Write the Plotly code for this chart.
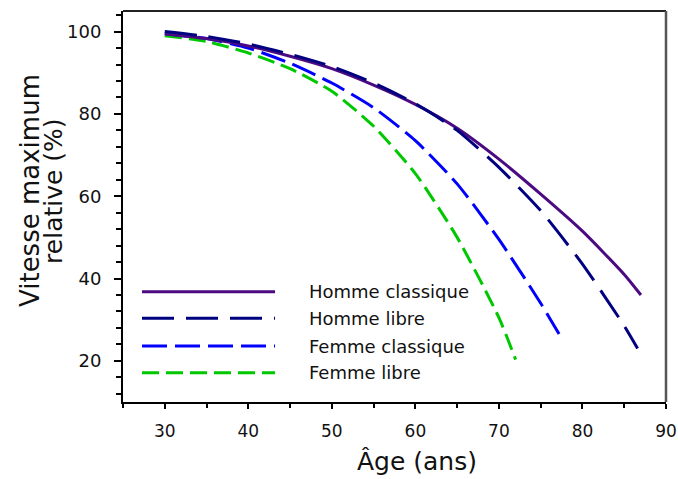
import plotly.graph_objects as go

# --- data ---
ages_hc = [30, 35, 40, 45, 50, 55, 60, 65, 70, 75, 80, 85, 87]
vals_hc = [99.5, 98.3, 96.5, 94.0, 91.0, 87.0, 82.3, 76.5, 69.0, 60.5, 51.5, 41.0, 36.0]

ages_hl = [30, 35, 40, 45, 50, 55, 60, 65, 70, 75, 80, 85, 86.6]
vals_hl = [100.0, 98.8, 97.0, 94.5, 91.5, 87.5, 82.5, 76.0, 67.0, 56.5, 43.5, 28.5, 23.0]

ages_fc = [30, 35, 40, 45, 50, 55, 60, 65, 70, 75, 77.2]
vals_fc = [99.5, 98.3, 96.0, 92.3, 87.5, 81.5, 73.5, 63.0, 49.5, 34.0, 26.5]

ages_fl = [30, 35, 40, 45, 50, 55, 60, 65, 70, 72]
vals_fl = [99.0, 97.6, 94.8, 91.0, 85.5, 77.0, 65.5, 50.0, 30.5, 20.3]

series_names = ["Homme classique", "Homme libre", "Femme classique", "Femme libre"]
x_ticks = [30, 40, 50, 60, 70, 80, 90]
y_ticks = [20, 40, 60, 80, 100]

colors = ["#4B0A82", "#000080", "#0000FF", "#00C800"]
dashes = ["solid", "32px,12px", "25px,8px", "17px,7px"]
FONT = "DejaVu Sans"

fig = go.Figure()
data = [(ages_fl, vals_fl, 3), (ages_fc, vals_fc, 2), (ages_hc, vals_hc, 0), (ages_hl, vals_hl, 1)]
for ax_, v_, i in data:
    fig.add_trace(go.Scatter(
        x=ax_, y=v_, mode="lines", name=series_names[i], showlegend=False,
        line=dict(color=colors[i], width=3, dash=dashes[i], shape="spline", smoothing=0.6),
    ))

shapes = []
annotations = []
# custom legend
row_y = [0.282, 0.214, 0.143, 0.075]
for i, name in enumerate(series_names):
    shapes.append(dict(type="line", xref="paper", yref="paper",
                       x0=0.035, x1=0.280, y0=row_y[i], y1=row_y[i],
                       line=dict(color=colors[i], width=3, dash=dashes[i])))
    annotations.append(dict(xref="paper", yref="paper", x=0.339, y=row_y[i],
                            xanchor="left", yanchor="middle", showarrow=False,
                            text=name, font=dict(family=FONT, size=18, color="#111")))

# frame top/right
shapes.append(dict(type="line", xref="paper", yref="paper", x0=0, x1=1, y0=1, y1=1,
                   line=dict(color="#222", width=2)))
shapes.append(dict(type="line", xref="paper", yref="paper", x0=1, x1=1, y0=0, y1=1,
                   line=dict(color="#555", width=2.5)))

# axis titles
annotations.append(dict(xref="paper", yref="paper", x=0.542, y=-0.153, xanchor="center",
                        yanchor="middle", showarrow=False, text="Âge (ans)",
                        font=dict(family=FONT, size=25, color="#111")))
annotations.append(dict(xref="paper", yref="paper", x=-0.171, y=0.54, xanchor="center",
                        yanchor="middle", showarrow=False, text="Vitesse maximum",
                        textangle=-90, font=dict(family=FONT, size=26, color="#111")))
annotations.append(dict(xref="paper", yref="paper", x=-0.127, y=0.54, xanchor="center",
                        yanchor="middle", showarrow=False, text="relative (%)",
                        textangle=-90, font=dict(family=FONT, size=25, color="#111")))

fig.update_layout(
    width=678, height=479,
    margin=dict(l=123, r=12, t=11, b=77, autoexpand=False),
    paper_bgcolor="white", plot_bgcolor="white",
    shapes=shapes, annotations=annotations,
    xaxis=dict(range=[25, 90], tickvals=x_ticks, ticks="outside", ticklen=5, tickwidth=1.5,
               tickcolor="black", showline=True, linewidth=2, linecolor="black",
               showgrid=False, zeroline=False, automargin=False, ticklabelstandoff=8,
               ticklabeloverflow="allow",
               tickfont=dict(family=FONT, size=17, color="#111"),
               minor=dict(dtick=5, tick0=0, ticks="outside", ticklen=4, tickwidth=1.5,
                          tickcolor="black", showgrid=False)),
    yaxis=dict(range=[10, 105], tickvals=y_ticks, ticks="outside", ticklen=7, tickwidth=1.5,
               tickcolor="black", showline=True, linewidth=2, linecolor="black",
               showgrid=False, zeroline=False, automargin=False, ticklabelstandoff=9,
               tickfont=dict(family=FONT, size=18, color="#111"),
               minor=dict(dtick=4, tick0=0, ticks="outside", ticklen=5, tickwidth=1.5,
                          tickcolor="black", showgrid=False)),
)

# remove the default page margin so the 678x479 figure fills the window exactly
fig.write_html("out.html", config={"displayModeBar": False},
               post_script="document.body.style.margin='0px';document.body.style.overflow='hidden';")
